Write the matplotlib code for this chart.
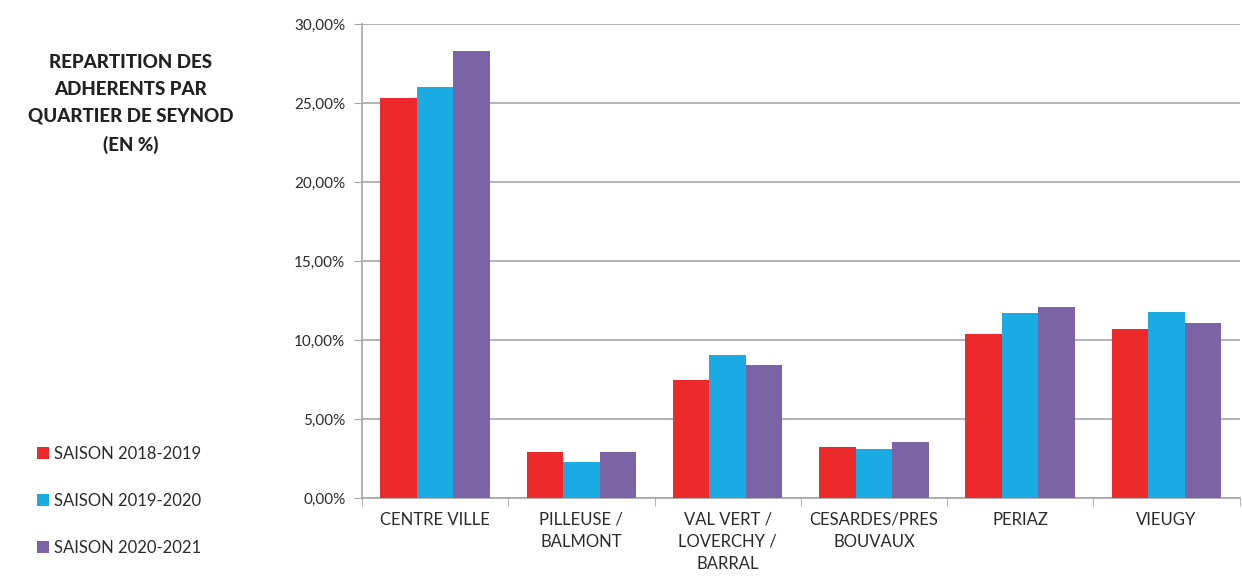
import numpy as np
import matplotlib
matplotlib.use("Agg")
import matplotlib.pyplot as plt
from matplotlib.ticker import FuncFormatter, FixedLocator
from matplotlib.patches import Patch

quartiers = ["CENTRE VILLE", "PILLEUSE /\nBALMONT", "VAL VERT /\nLOVERCHY /\nBARRAL",
             "CESARDES/PRES\nBOUVAUX", "PERIAZ", "VIEUGY"]
saisons = ["SAISON 2018-2019", "SAISON 2019-2020", "SAISON 2020-2021"]
s2018 = [25.3, 2.9, 7.5, 3.2, 10.4, 10.7]
s2019 = [26.0, 2.3, 9.05, 3.1, 11.7, 11.8]
s2020 = [28.3, 2.9, 8.4, 3.55, 12.1, 11.1]
couleurs = ["#EC2A2C", "#1AABE2", "#7A64A6"]

plt.rcParams['font.family'] = ['Lato', 'DejaVu Sans']
grey = "#A6A6A6"

fig = plt.figure(figsize=(12.42, 5.76), dpi=100)
ax = fig.add_axes([0.2915, 0.1354, 0.7065, 0.8229])

x = np.arange(len(quartiers))
w = 0.25
for i, vals in enumerate([s2018, s2019, s2020]):
    ax.bar(x + (i - 1) * w, vals, width=w, color=couleurs[i], zorder=3)

ax.set_xlim(-0.5, len(quartiers) - 0.5)
ax.set_ylim(0, 30)
ax.set_yticks(np.arange(0, 31, 5))
ax.yaxis.set_major_formatter(FuncFormatter(lambda v, p: ("%.2f%%" % v).replace(".", ",")))
ax.grid(axis='y', color=grey, linewidth=1.2, zorder=0)

ax.set_xticks(x)
ax.set_xticklabels(quartiers, fontsize=12, color="#2b2b2b", linespacing=1.45, va='top')
ax.xaxis.set_minor_locator(FixedLocator(np.arange(-0.5, len(quartiers), 1)))
ax.tick_params(axis='x', which='major', length=0, pad=10)
ax.tick_params(axis='x', which='minor', length=6, color=grey)
ax.tick_params(axis='y', length=6, color=grey, labelsize=11, labelcolor="#2b2b2b", pad=6)

for s in ['top', 'right']:
    ax.spines[s].set_visible(False)
for s in ['left', 'bottom']:
    ax.spines[s].set_color(grey)
    ax.spines[s].set_linewidth(1.2)

fig.text(0.105, 0.82, "REPARTITION DES\nADHERENTS PAR\nQUARTIER DE SEYNOD\n(EN %)",
         ha='center', va='center', fontsize=13.5, fontweight='black', color="#222222",
         linespacing=1.72)

handles = [Patch(facecolor=c) for c in couleurs]
fig.legend(handles, saisons, loc='upper left', bbox_to_anchor=(0.018, 0.252),
           frameon=False, fontsize=12, labelspacing=1.85, handlelength=0.7,
           handleheight=0.7, handletextpad=0.3, labelcolor="#2b2b2b")

fig.savefig("out.png", dpi=100)
